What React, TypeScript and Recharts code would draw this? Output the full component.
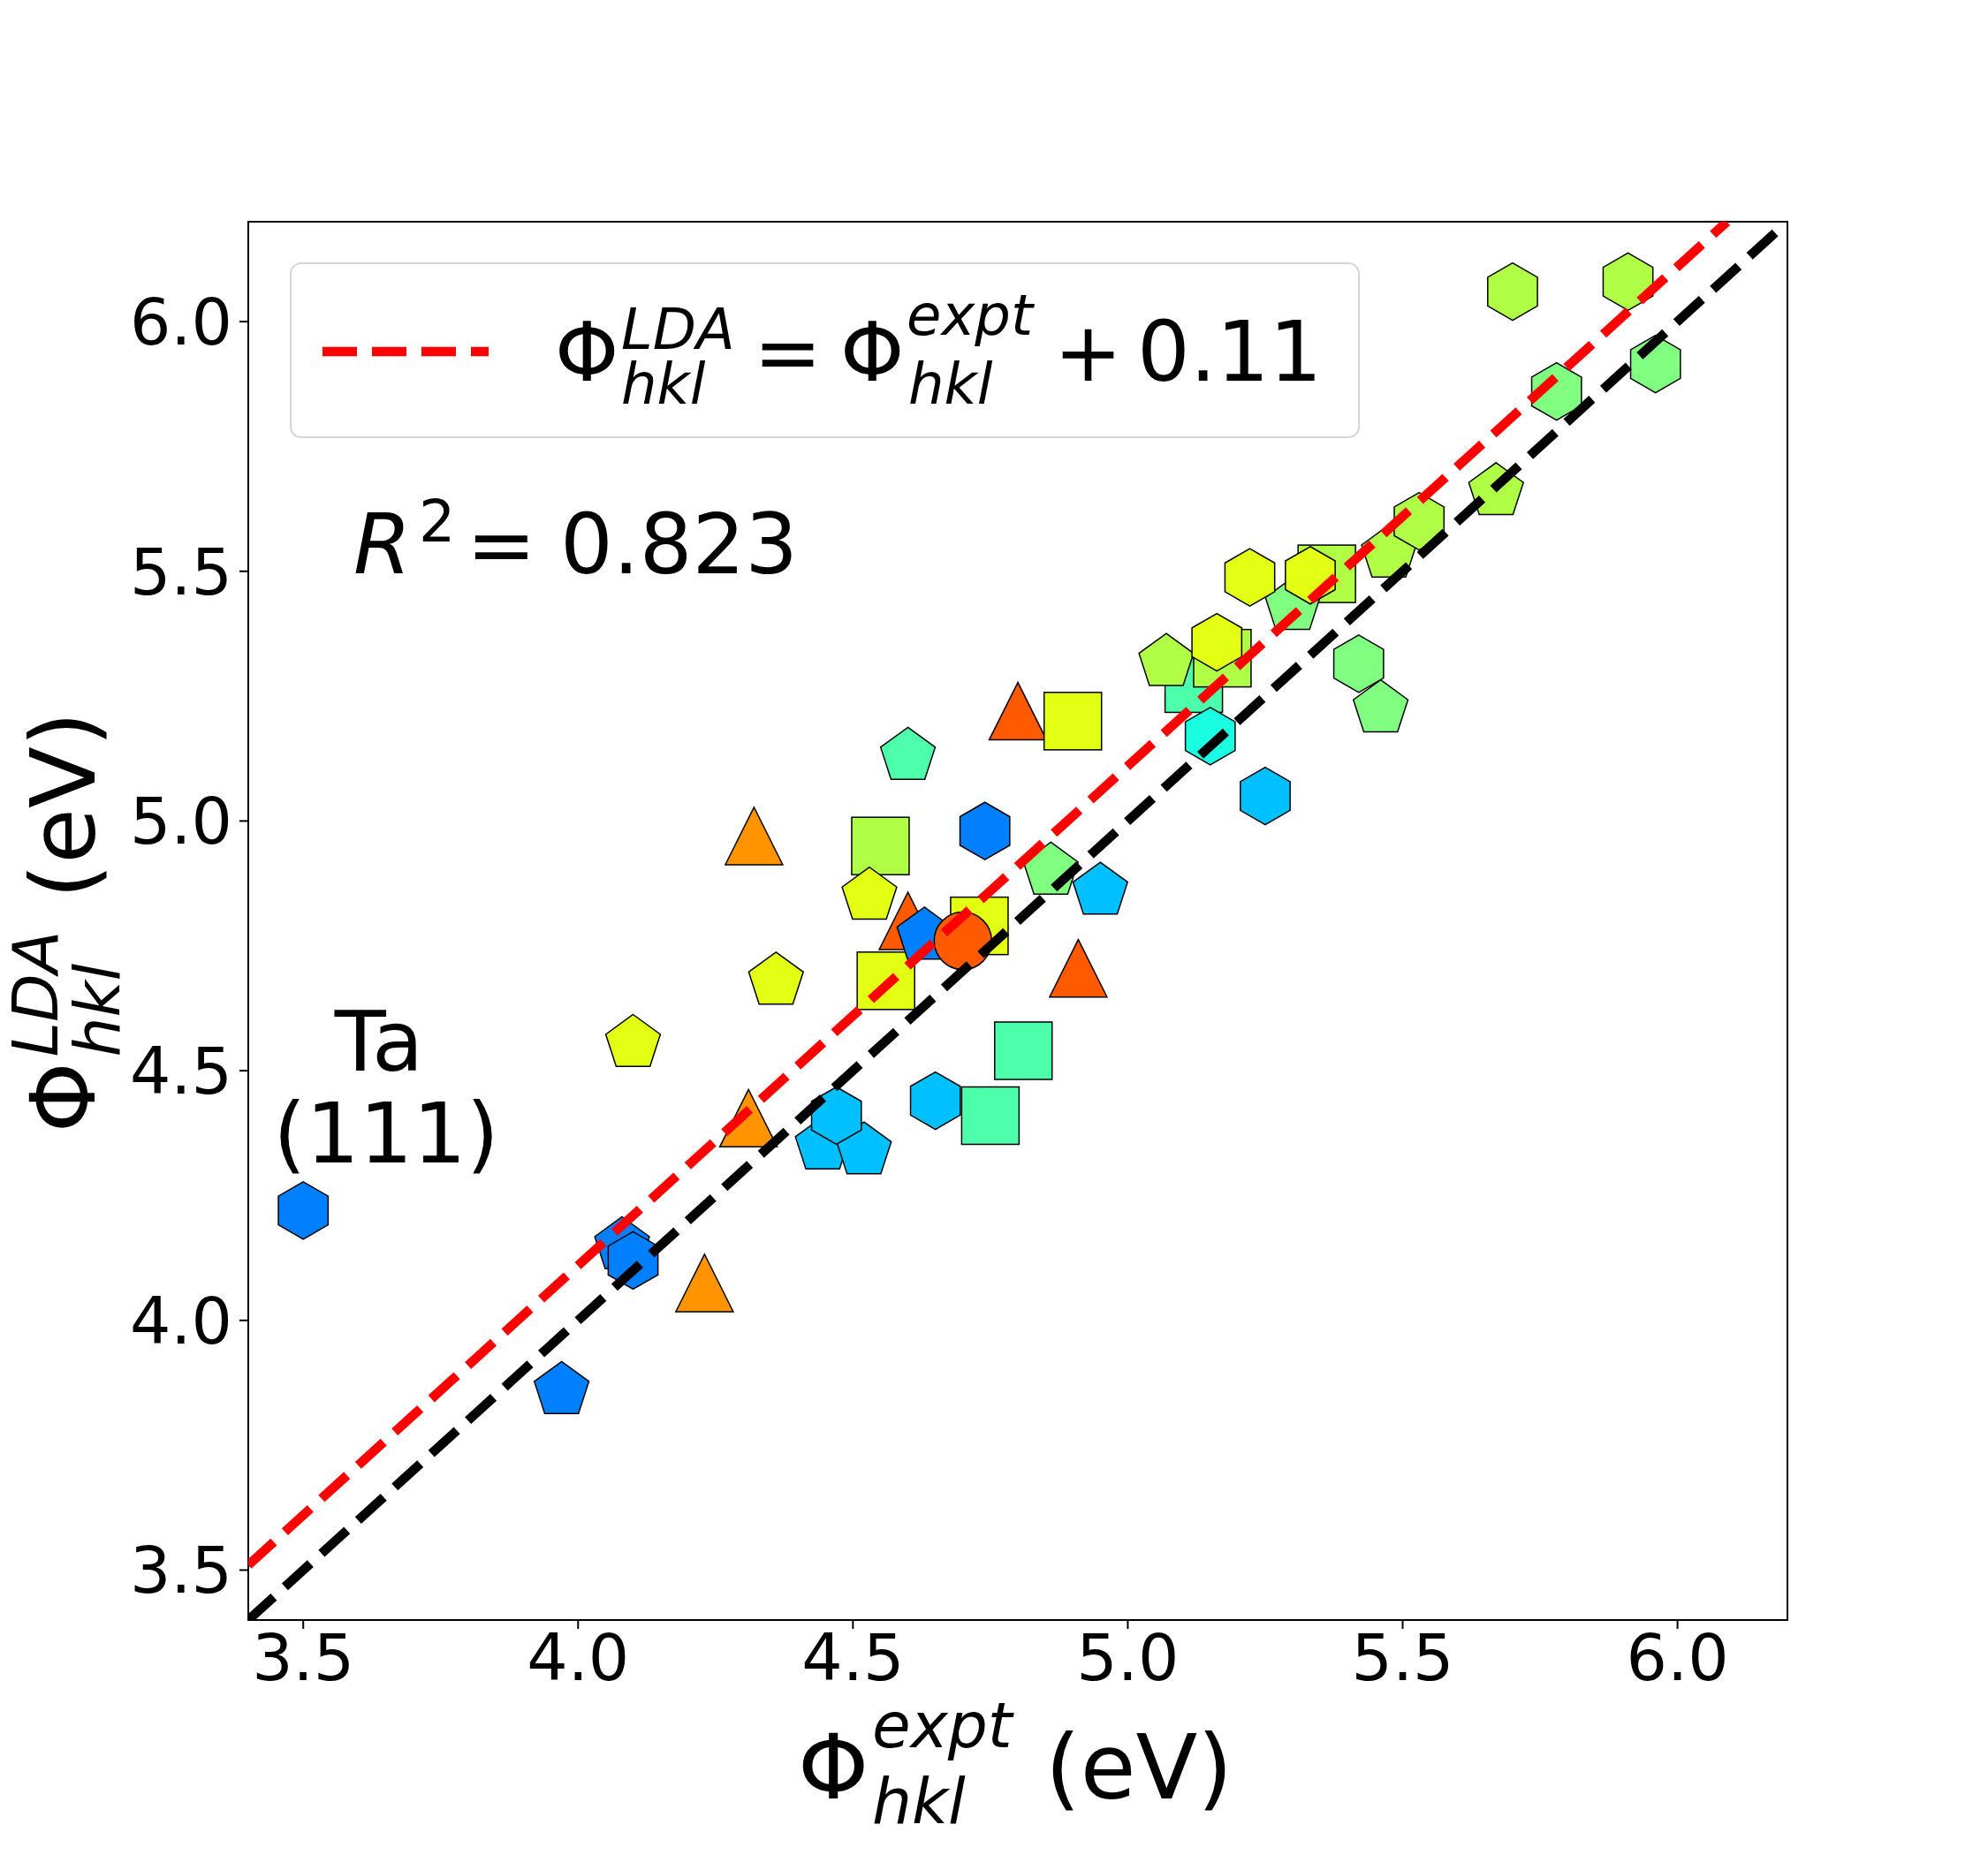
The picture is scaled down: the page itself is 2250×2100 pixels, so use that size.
import React from 'react';
import { ScatterChart, Scatter, XAxis, YAxis, ReferenceArea, Customized } from 'recharts';

const FONT = 'DejaVu Sans, Verdana, sans-serif';

// axis setup
const axisDomain: [number, number] = [3.4, 6.2];
const xTicks = [3.5, 4.0, 4.5, 5.0, 5.5, 6.0];
const yTicks = [3.5, 4.0, 4.5, 5.0, 5.5, 6.0];

// points, grouped by marker + colour
const blueHex = [{ x: 3.5, y: 4.22 }, { x: 4.1, y: 4.12 }, { x: 4.74, y: 4.98 }];
const bluePent = [{ x: 4.08, y: 4.15 }, { x: 4.63, y: 4.77 }, { x: 3.97, y: 3.86 }];
const cyanHex = [{ x: 5.25, y: 5.05 }, { x: 4.65, y: 4.44 }, { x: 4.47, y: 4.41 }];
const cyanPent = [{ x: 4.445, y: 4.35 }, { x: 4.52, y: 4.34 }, { x: 4.95, y: 4.86 }];
const aquaHex = [{ x: 5.15, y: 5.17 }];
const mintSquare = [{ x: 4.81, y: 4.54 }, { x: 4.75, y: 4.41 }, { x: 5.12, y: 5.275 }];
const mintPent = [{ x: 4.6, y: 5.13 }];
const greenHex = [{ x: 5.96, y: 5.915 }, { x: 5.78, y: 5.86 }, { x: 5.42, y: 5.315 }];
const greenPent = [{ x: 5.46, y: 5.225 }, { x: 4.86, y: 4.9 }, { x: 5.3, y: 5.43 }];
const limeHex = [{ x: 5.7, y: 6.06 }, { x: 5.91, y: 6.08 }, { x: 5.53, y: 5.6 }];
const limePent = [{ x: 5.67, y: 5.66 }, { x: 5.475, y: 5.535 }, { x: 5.07, y: 5.318 }];
const limeSquare = [{ x: 4.55, y: 4.95 }, { x: 5.362, y: 5.495 }, { x: 5.172, y: 5.326 }];
const yellowHex = [{ x: 5.222, y: 5.488 }, { x: 5.332, y: 5.492 }, { x: 5.162, y: 5.358 }];
const yellowPent = [{ x: 4.53, y: 4.85 }, { x: 4.36, y: 4.68 }, { x: 4.1, y: 4.555 }];
const yellowSquare = [{ x: 4.9, y: 5.2 }, { x: 4.73, y: 4.79 }, { x: 4.56, y: 4.68 }];
const orangeTri = [{ x: 4.32, y: 4.97 }, { x: 4.31, y: 4.405 }, { x: 4.23, y: 4.075 }];
const redTri = [{ x: 4.8, y: 5.22 }, { x: 4.91, y: 4.705 }, { x: 4.6, y: 4.8 }];
const redCircle = [{ x: 4.7, y: 4.76 }];

// y = x reference and the fitted offset line (Phi_LDA = Phi_expt + 0.11)
const parityLine = [{ x: 3.4, y: 3.4 }, { x: 6.2, y: 6.2 }];
const fitLine = [{ x: 3.4, y: 3.51 }, { x: 6.09, y: 6.2 }];

const MS = 65; // marker size in px
const EDGE = { stroke: '#000', strokeWidth: 1.5 };

const regular = (cx: number, cy: number, r: number, n: number) =>
  Array.from({ length: n }, (_, k) => {
    const a = (-90 + (360 / n) * k) * (Math.PI / 180);
    return `${cx + r * Math.cos(a)},${cy + r * Math.sin(a)}`;
  }).join(' ');

const hexagon = (p: any) => <polygon points={regular(p.cx, p.cy, MS / 2, 6)} fill={p.fill} {...EDGE} />;
const pentagon = (p: any) => <polygon points={regular(p.cx, p.cy, MS / 2, 5)} fill={p.fill} {...EDGE} />;
const square = (p: any) => (
  <rect x={p.cx - MS / 2} y={p.cy - MS / 2} width={MS} height={MS} fill={p.fill} {...EDGE} />
);
const triangle = (p: any) => {
  const h = MS / 2;
  return (
    <polygon
      points={`${p.cx},${p.cy - h} ${p.cx - h},${p.cy + h} ${p.cx + h},${p.cy + h}`}
      fill={p.fill}
      {...EDGE}
    />
  );
};
const circle = (p: any) => <circle cx={p.cx} cy={p.cy} r={MS / 2} fill={p.fill} {...EDGE} />;
const noDot = () => <g />;

// draw order: triangles, squares, pentagons, hexagons, circle
const series = [
  { name: 'orangeTri', data: orangeTri, shape: triangle, color: '#ff9400' },
  { name: 'redTri', data: redTri, shape: triangle, color: '#ff5a00' },
  { name: 'mintSquare', data: mintSquare, shape: square, color: '#4dffaa' },
  { name: 'limeSquare', data: limeSquare, shape: square, color: '#b0ff46' },
  { name: 'yellowSquare', data: yellowSquare, shape: square, color: '#e2ff14' },
  { name: 'bluePent', data: bluePent, shape: pentagon, color: '#0080ff' },
  { name: 'cyanPent', data: cyanPent, shape: pentagon, color: '#00c0ff' },
  { name: 'mintPent', data: mintPent, shape: pentagon, color: '#4dffaa' },
  { name: 'greenPent', data: greenPent, shape: pentagon, color: '#80ff80' },
  { name: 'limePent', data: limePent, shape: pentagon, color: '#b0ff46' },
  { name: 'yellowPent', data: yellowPent, shape: pentagon, color: '#e2ff14' },
  { name: 'blueHex', data: blueHex, shape: hexagon, color: '#0080ff' },
  { name: 'cyanHex', data: cyanHex, shape: hexagon, color: '#00c0ff' },
  { name: 'aquaHex', data: aquaHex, shape: hexagon, color: '#1affe2' },
  { name: 'greenHex', data: greenHex, shape: hexagon, color: '#80ff80' },
  { name: 'limeHex', data: limeHex, shape: hexagon, color: '#b0ff46' },
  { name: 'yellowHex', data: yellowHex, shape: hexagon, color: '#e2ff14' },
  { name: 'redCircle', data: redCircle, shape: circle, color: '#ff5a00' },
];

const DASH = '39 17';
const LW = 10.5;

// Phi with stacked sup/sub script followed by " (eV)"
const PhiLabel = ({ sup, supRise, supX, suffixX }: { sup: string; supRise: number; supX: number; suffixX: number }) => (
  <g fontFamily={FONT} fill="#000">
    <text x={-4} y={0} fontSize={102}>Φ</text>
    <text x={supX} y={-supRise} fontSize={71} fontStyle="italic">{sup}</text>
    <text x={supX} y={28} fontSize={71} fontStyle="italic">hkl</text>
    <text x={suffixX} y={0} fontSize={102}>(eV)</text>
  </g>
);

const xLabel = (props: any) => {
  const vb = props.viewBox || { x: 281, y: 1834, width: 1742 };
  const left = vb.x + vb.width / 2 - 245;
  return (
    <g transform={`translate(${left}, ${vb.y + 202})`}>
      <PhiLabel sup="expt" supRise={58} supX={80} suffixX={276} />
    </g>
  );
};

const yLabel = (props: any) => {
  const vb = props.viewBox || { x: 131, y: 251, height: 1583 };
  const start = vb.y + vb.height / 2 + 236;
  return (
    <g transform={`translate(${vb.x - 24}, ${start}) rotate(-90)`}>
      <PhiLabel sup="LDA" supRise={42} supX={82} suffixX={261} />
    </g>
  );
};

const Annotations = () => (
  <g fontFamily={FONT} fill="#000">
    {/* legend */}
    <rect x={329} y={298} width={1209} height={197} rx={12} fill="#fff" fillOpacity={0.8} stroke="#d5d5d5" strokeWidth={2} />
    <line x1={365} y1={398} x2={553} y2={398} stroke="#ff0000" strokeWidth={LW} strokeDasharray={DASH} />
    <text x={628} y={431} fontSize={92}>Φ</text>
    <text x={703} y={395} fontSize={64} fontStyle="italic">LDA</text>
    <text x={703} y={457} fontSize={64} fontStyle="italic">hkl</text>
    <text x={853} y={431} fontSize={92}>=</text>
    <text x={951} y={431} fontSize={92}>Φ</text>
    <text x={1026} y={379} fontSize={64} fontStyle="italic">expt</text>
    <text x={1028} y={457} fontSize={64} fontStyle="italic">hkl</text>
    <text x={1193} y={431} fontSize={92}>+</text>
    <text x={1287} y={431} fontSize={94}>0.11</text>

    {/* R^2 */}
    <text x={400} y={649} fontSize={94} fontStyle="italic">R</text>
    <text x={474} y={613} fontSize={65}>2</text>
    <text x={528} y={649} fontSize={94}>=</text>
    <text x={634} y={649} fontSize={94}>0.823</text>

    {/* outlier tag */}
    <text x={429} y={1212} fontSize={95} textAnchor="middle">Ta</text>
    <text x={437} y={1316} fontSize={95} textAnchor="middle">(111)</text>
  </g>
);

const tickStyle = { fill: '#000', fontSize: 73, fontFamily: FONT };
const fmt = (v: number) => v.toFixed(1);

export default function App() {
  return (
    <div style={{ position: 'absolute', left: 0, top: 0, width: 2250, height: 2100, background: '#fff' }}>
      <ScatterChart width={2250} height={2100} margin={{ top: 251, right: 227, bottom: 146, left: 131 }}>
        <XAxis
          type="number"
          dataKey="x"
          domain={axisDomain}
          ticks={xTicks}
          allowDataOverflow
          tickFormatter={fmt}
          tick={tickStyle}
          tickSize={10}
          tickMargin={6}
          height={120}
          axisLine={{ stroke: '#000', strokeWidth: 2 }}
          tickLine={{ stroke: '#000', strokeWidth: 2 }}
          label={xLabel}
        />
        <YAxis
          type="number"
          dataKey="y"
          domain={axisDomain}
          ticks={yTicks}
          allowDataOverflow
          tickFormatter={fmt}
          tick={tickStyle}
          tickSize={10}
          tickMargin={8}
          width={150}
          axisLine={{ stroke: '#000', strokeWidth: 2 }}
          tickLine={{ stroke: '#000', strokeWidth: 2 }}
          label={yLabel}
        />
        {series.map((s) => (
          <Scatter key={s.name} name={s.name} data={s.data} fill={s.color} shape={s.shape} isAnimationActive={false} />
        ))}
        <Scatter
          name="fit"
          data={fitLine}
          stroke="#ff0000"
          fill="#ff0000"
          line={{ stroke: '#ff0000', strokeWidth: LW, strokeDasharray: DASH }}
          shape={noDot}
          isAnimationActive={false}
        />
        <Scatter
          name="parity"
          data={parityLine}
          stroke="#000"
          fill="#000"
          line={{ stroke: '#000', strokeWidth: LW, strokeDasharray: DASH }}
          shape={noDot}
          isAnimationActive={false}
        />
        <ReferenceArea x1={3.4} x2={6.2} y1={3.4} y2={6.2} fill="none" stroke="#000" strokeWidth={2} />
        <Customized component={Annotations} />
      </ScatterChart>
    </div>
  );
}
